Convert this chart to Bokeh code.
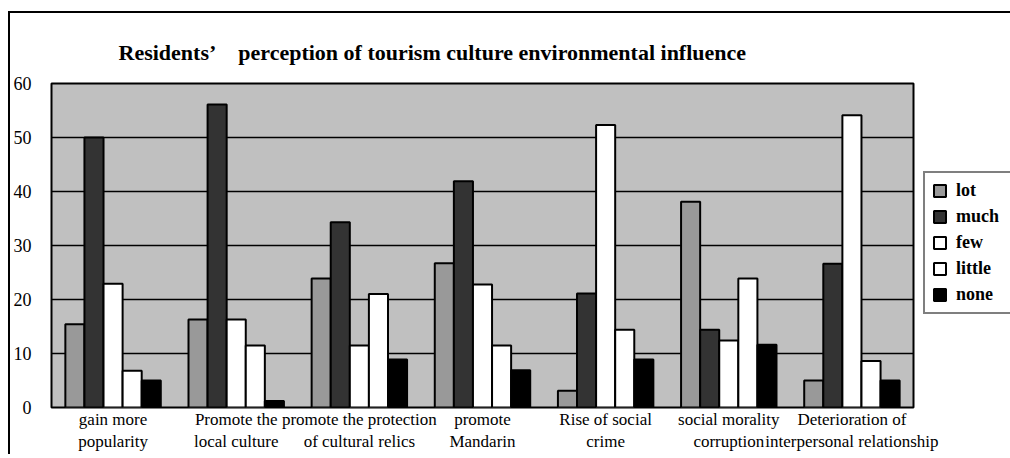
from bokeh.plotting import figure
from bokeh.models import FactorRange, Legend, LegendItem, ColumnDataSource, FixedTicker
from bokeh.transform import dodge
from bokeh.embed import file_html
from bokeh.resources import INLINE

title_text = "Residents\u2019\u2003perception of tourism culture environmental influence"
categories = [
    "gain more\npopularity",
    "Promote the\nlocal culture",
    "promote the protection\nof cultural relics",
    "promote\nMandarin",
    "Rise of social\ncrime",
    "social morality\ncorruption",
    "Deterioration of\ninterpersonal relationship",
]
series = ["lot", "much", "few", "little", "none"]
lot = [15.4, 16.3, 23.9, 26.7, 3.1, 38.1, 5.0]
much = [50.0, 56.1, 34.3, 41.9, 21.1, 14.4, 26.6]
few = [22.9, 16.3, 11.5, 22.8, 52.3, 12.4, 54.1]
little = [6.8, 11.5, 21.0, 11.5, 14.4, 23.9, 8.6]
none = [5.0, 1.2, 8.9, 6.9, 8.9, 11.6, 5.0]
y_ticks = [0, 10, 20, 30, 40, 50, 60]
colors = ["#999999", "#333333", "#ffffff", "#ffffff", "#000000"]

src = ColumnDataSource(dict(cat=categories, lot=lot, much=much, few=few, little=little, none=none))

p = figure(
    x_range=FactorRange(*categories, range_padding=0),
    y_range=(0, 60),
    frame_width=862, frame_height=324,
    output_backend="svg", toolbar_location=None,
    min_border_left=41, min_border_right=0, min_border_top=70, min_border_bottom=46,
)
p.margin = (11, 0, 0, 8)
p.styles = {"border-left": "2px solid black", "border-top": "2px solid black"}
p.background_fill_color = "#c0c0c0"
p.border_fill_color = "white"
p.outline_line_color = "black"
p.outline_line_width = 2

p.title.text = title_text
p.title.align = "left"
p.title.offset = 67
p.title.text_font = "Liberation Serif"
p.title.text_font_size = "22px"
p.title.text_font_style = "bold"
p.title.text_color = "black"
p.title.standoff = 38

bw = 0.155
offsets = [-2 * bw, -bw, 0, bw, 2 * bw]
items = []
for name, off, col in zip(series, offsets, colors):
    r = p.vbar(x=dodge("cat", off, range=p.x_range), top=name, width=bw, source=src,
               fill_color=col, line_color="black", line_width=2)
    items.append(LegendItem(label=name, renderers=[r]))

p.xgrid.grid_line_color = None
p.ygrid.grid_line_color = "black"
p.ygrid.grid_line_width = 1.5
p.yaxis.ticker = FixedTicker(ticks=y_ticks)

for ax in (p.xaxis, p.yaxis):
    ax.axis_line_color = None
    ax.major_tick_line_color = None
    ax.minor_tick_line_color = None
    ax.major_tick_out = 0
    ax.major_tick_in = 0
    ax.minor_tick_out = 0
    ax.minor_tick_in = 0
    ax.major_label_text_font = "Liberation Serif"
    ax.major_label_text_color = "black"

p.xaxis.major_label_text_font_size = "17px"
p.xaxis.major_label_standoff = 2
p.yaxis.major_label_text_font_size = "18px"
p.yaxis.major_label_standoff = 20

legend = Legend(items=items, location=(10, 93))
legend.label_text_font = "Liberation Serif"
legend.label_text_font_style = "bold"
legend.label_text_font_size = "18px"
legend.label_text_color = "black"
legend.glyph_width = 15
legend.glyph_height = 15
legend.label_standoff = 9
legend.label_width = 50
legend.label_height = 20
legend.spacing = 5
legend.padding = 7
legend.margin = 0
legend.border_line_color = "black"
legend.border_line_width = 2
legend.background_fill_color = "white"
legend.background_fill_alpha = 1
p.add_layout(legend, "right")

open("out.html", "w").write(file_html(p, INLINE))
